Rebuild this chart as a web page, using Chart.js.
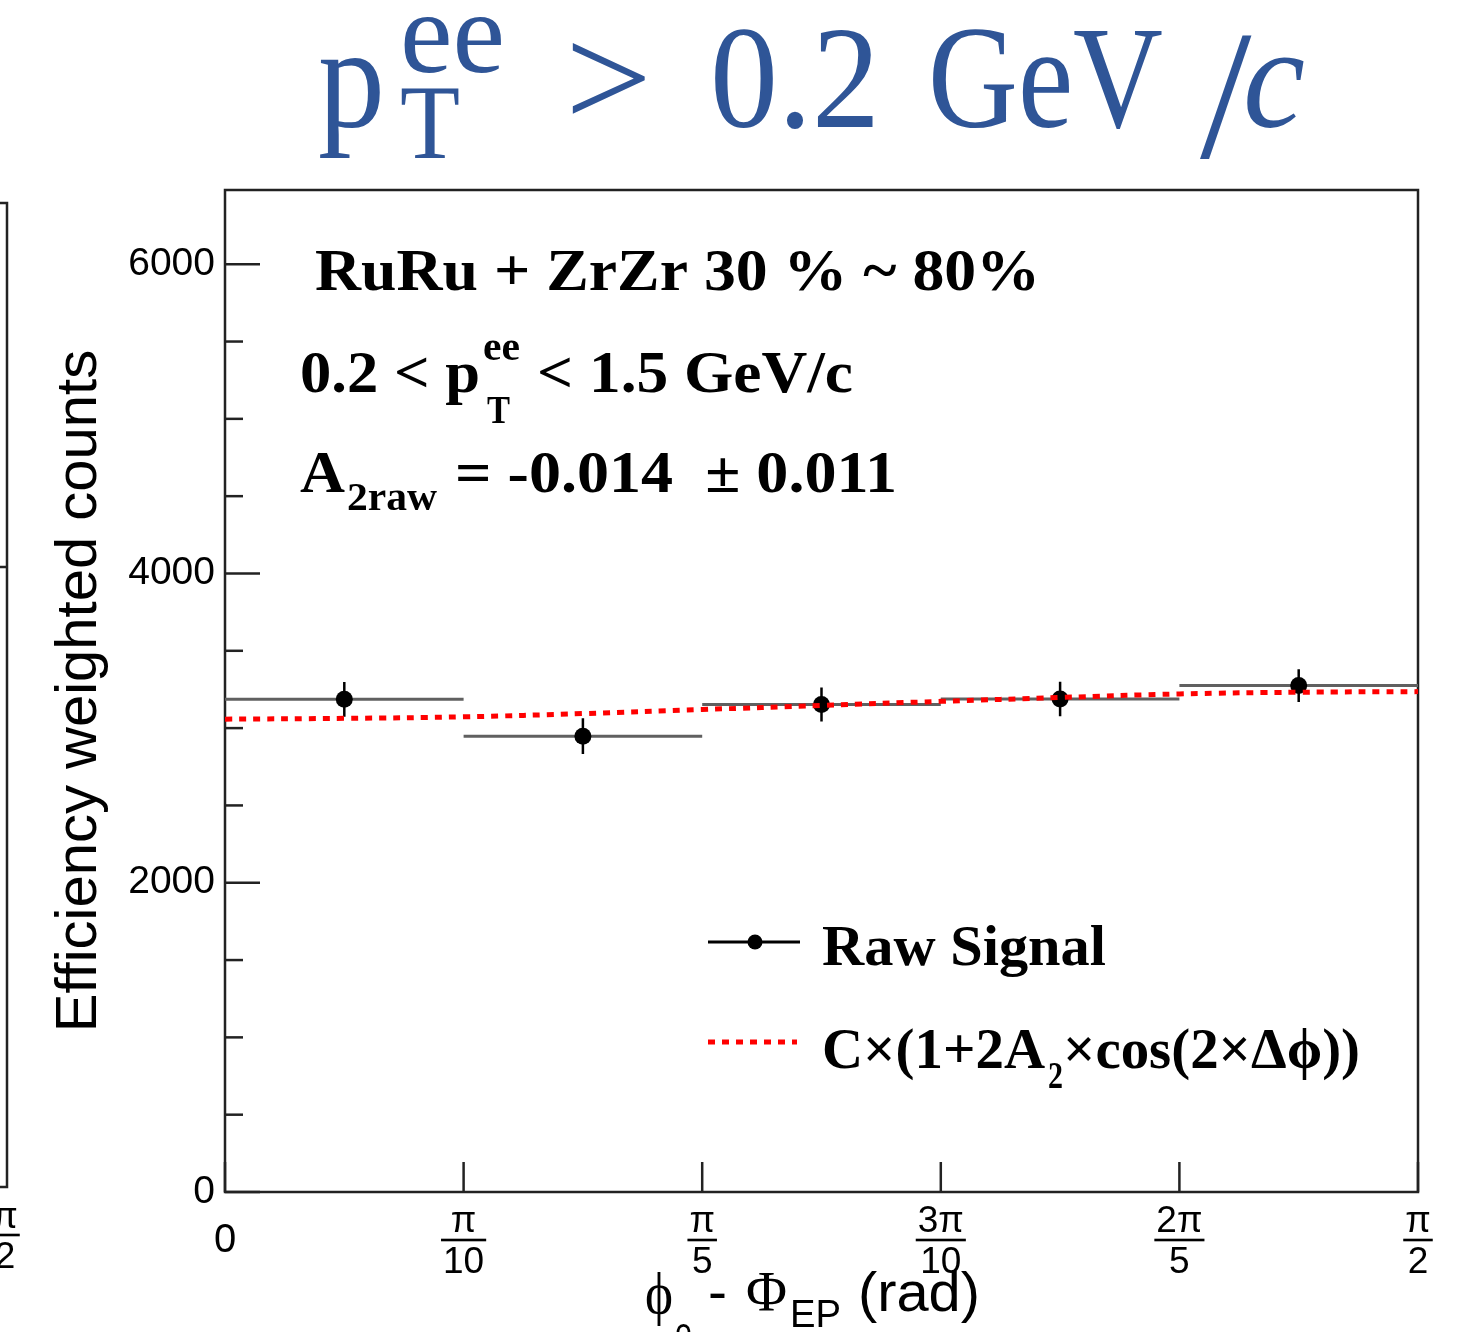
<!DOCTYPE html>
<html>
<head>
<meta charset="utf-8">
<script src="https://cdn.jsdelivr.net/npm/chart.js@4.4.0/dist/chart.umd.min.js"></script>
<style>
  body { margin: 0; background: #fff; }
  #caja { width: 1465px; height: 1332px; position: relative; }
</style>
</head>
<body>
<div id="caja"><canvas id="grafico" width="1465" height="1332"></canvas></div>
<script>
  // datos (x en unidades de pi)
  let binBajo = [0, 0.1, 0.2, 0.3, 0.4]
  let binAlto = [0.1, 0.2, 0.3, 0.4, 0.5]
  let senal = [3186, 2948, 3152, 3188, 3275]
  let errores = [112, 116, 110, 112, 106]
  // curva del ajuste C x (1 + 2 A2 cos(2 dphi))
  let ajusteX = [0, 0.05, 0.1, 0.15, 0.2, 0.25, 0.3, 0.35, 0.4, 0.45, 0.5]
  let ajusteY = [3058, 3063, 3073, 3094, 3120, 3147, 3173, 3198, 3221, 3232, 3236]
  // divisiones de los ejes
  let ticksX = [0, 0.1, 0.2, 0.3, 0.4, 0.5]
  let etiquetasX = [["0"], ["π", "10"], ["π", "5"], ["3π", "10"], ["2π", "5"], ["π", "2"]]
  let ticksY = [0, 500, 1000, 1500, 2000, 2500, 3000, 3500, 4000, 4500, 5000, 5500, 6000]
  let yMax = 6480

  const PI = Math.PI

  // armo los puntos de cada dataset
  let histo = []
  let barras = []
  let marcas = []
  for (var i = 0; i < senal.length; i++) {
    histo.push({x: binBajo[i] * PI, y: senal[i]})
    histo.push({x: binAlto[i] * PI, y: senal[i]})
    histo.push({x: binAlto[i] * PI, y: null})
    let c = (binBajo[i] + binAlto[i]) / 2 * PI
    barras.push({x: c, y: senal[i] - errores[i]})
    barras.push({x: c, y: senal[i] + errores[i]})
    barras.push({x: c, y: null})
    marcas.push({x: c, y: senal[i]})
  }
  let ajuste = ajusteX.map((k, i) => ({x: k * PI, y: ajusteY[i]}))

  // texto estirado para que ocupe el ancho pedido
  function texto(ctx, s, x, base, size, ancho, fam, extra, color) {
    ctx.save()
    ctx.font = (extra || "") + " " + size + "px " + fam
    ctx.fillStyle = color || "#000"
    ctx.textAlign = "left"
    ctx.textBaseline = "alphabetic"
    let w = ctx.measureText(s).width
    let sx = ancho ? ancho / w : 1
    ctx.translate(x, base)
    ctx.scale(sx, 1)
    ctx.fillText(s, 0, 0)
    ctx.restore()
  }

  function fraccion(ctx, num, den, x, yNum, yBarra, yDen, size) {
    ctx.save()
    ctx.font = size + "px 'Liberation Sans', Arial"
    ctx.fillStyle = "#000"
    ctx.textAlign = "center"
    ctx.textBaseline = "alphabetic"
    ctx.fillText(num, x, yNum)
    ctx.fillText(den, x, yDen)
    let w = Math.max(ctx.measureText(num).width, ctx.measureText(den).width) + 4
    ctx.fillRect(x - w / 2, yBarra - 1.3, w, 2.6)
    ctx.restore()
  }

  const marco = {
    id: "marco",
    beforeDatasetsDraw(chart) {
      const ctx = chart.ctx
      const a = chart.chartArea
      const sx = chart.scales.x
      const sy = chart.scales.y
      ctx.save()
      ctx.strokeStyle = "#222"
      ctx.lineWidth = 2.5
      ctx.strokeRect(a.left, a.top, a.right - a.left, a.bottom - a.top)
      // divisiones del eje y hacia adentro
      ticksY.forEach(v => {
        let py = sy.getPixelForValue(v)
        let largo = (v % 2000 === 0) ? 35 : 18
        ctx.beginPath()
        ctx.moveTo(a.left, py)
        ctx.lineTo(a.left + largo, py)
        ctx.stroke()
      })
      ticksX.forEach(k => {
        let px = sx.getPixelForValue(k * PI)
        ctx.beginPath()
        ctx.moveTo(px, a.bottom)
        ctx.lineTo(px, a.bottom - 30)
        ctx.stroke()
      })
      // borde del grafico vecino (cortado)
      ctx.beginPath()
      ctx.moveTo(0, 203); ctx.lineTo(7, 203); ctx.lineTo(7, 1187); ctx.lineTo(0, 1187)
      ctx.moveTo(0, 567); ctx.lineTo(7, 567)
      ctx.stroke()
      ctx.restore()
    },
    afterDraw(chart) {
      const ctx = chart.ctx
      const a = chart.chartArea
      const sx = chart.scales.x
      // etiquetas del eje x en fracciones
      ticksX.forEach((k, i) => {
        let px = sx.getPixelForValue(k * PI)
        let et = etiquetasX[i]
        if (et.length === 1) {
          ctx.save()
          ctx.font = "40px 'Liberation Sans', Arial"
          ctx.fillStyle = "#000"
          ctx.textAlign = "center"
          ctx.fillText(et[0], px, a.bottom + 60)
          ctx.restore()
        } else {
          fraccion(ctx, et[0], et[1], px, a.bottom + 40, a.bottom + 48, a.bottom + 81, 37)
        }
      })
      fraccion(ctx, "π", "2", 5, 1228, 1235, 1268, 37)

      // titulo del eje x
      const sans = "'Liberation Sans', Arial"
      const serif = "'Liberation Serif', 'Times New Roman'"
      texto(ctx, "ϕ", 645, 1313, 60, 28, serif)
      texto(ctx, "e", 675, 1346, 40, 17, sans)
      texto(ctx, "-", 708, 1311, 56, 19, sans)
      texto(ctx, "Φ", 746, 1311, 56, 41, serif)
      texto(ctx, "EP", 790, 1327, 38, 51, sans)
      texto(ctx, "(rad)", 858, 1311, 56, 122, sans)

      // textos del panel
      texto(ctx, "RuRu + ZrZr 30 % ~ 80%", 315, 290, 60, 725, serif, "bold")
      texto(ctx, "0.2 < p", 300, 392, 60, 180, serif, "bold")
      texto(ctx, "ee", 483, 360, 40, 37, serif, "bold")
      texto(ctx, "T", 487, 423, 40, 23, serif, "bold")
      texto(ctx, "< 1.5 GeV/c", 537, 392, 60, 316, serif, "bold")
      texto(ctx, "A", 300, 492, 60, 45, serif, "bold")
      texto(ctx, "2raw", 347, 510, 40, 90, serif, "bold")
      texto(ctx, "= -0.014  ± 0.011", 455, 492, 60, 442, serif, "bold")

      // leyenda
      ctx.save()
      ctx.strokeStyle = "#000"
      ctx.lineWidth = 3
      ctx.beginPath(); ctx.moveTo(708, 942); ctx.lineTo(800, 942); ctx.stroke()
      ctx.fillStyle = "#000"
      ctx.beginPath(); ctx.arc(755, 942, 7.5, 0, 2 * PI); ctx.fill()
      ctx.strokeStyle = "#ff0000"
      ctx.lineWidth = 5
      ctx.setLineDash([7, 7])
      ctx.beginPath(); ctx.moveTo(708, 1042); ctx.lineTo(797, 1042); ctx.stroke()
      ctx.restore()
      texto(ctx, "Raw Signal", 822, 965, 57, 284, serif, "bold")
      texto(ctx, "C×(1+2A", 822, 1068, 57, 223, serif, "bold")
      texto(ctx, "2", 1048, 1088, 38, 15, serif, "bold")
      texto(ctx, "×cos(2×Δϕ))", 1063, 1068, 57, 297, serif, "bold")

      // titulo grande
      const azul = "#2F5597"
      texto(ctx, "p", 318, 127, 147, 67, serif, "", azul)
      texto(ctx, "ee", 400, 72, 116, 105, serif, "", azul)
      texto(ctx, "T", 400, 158, 106, 60, serif, "", azul)
      texto(ctx, ">", 565, 127, 147, 87, serif, "", azul)
      texto(ctx, "0.2", 710, 127, 147, 170, serif, "", azul)
      texto(ctx, "GeV", 928, 127, 147, 235, serif, "", azul)
      texto(ctx, "/", 1200, 157, 185, null, serif, "", azul)
      texto(ctx, "c", 1243, 127, 147, 62, serif, "italic", azul)
    }
  }

  var ctx = document.getElementById("grafico").getContext("2d")
  var grafico = new Chart(ctx, {
    type: "scatter",
    data: {
      datasets: [
        {
          label: "ajuste",
          data: ajuste,
          showLine: true,
          borderColor: "#ff0000",
          borderWidth: 5,
          borderDash: [7, 7],
          pointRadius: 0,
          tension: 0.4,
          order: 0
        },
        {
          label: "Raw Signal",
          data: marcas,
          pointRadius: 8.5,
          pointBackgroundColor: "#000",
          pointBorderWidth: 0,
          order: 1
        },
        {
          label: "errores",
          data: barras,
          showLine: true,
          spanGaps: false,
          borderColor: "#000",
          borderWidth: 2.5,
          pointRadius: 0,
          order: 2
        },
        {
          label: "histo",
          data: histo,
          showLine: true,
          spanGaps: false,
          borderColor: "#606060",
          borderWidth: 3,
          pointRadius: 0,
          order: 3
        }
      ]
    },
    options: {
      responsive: false,
      animation: false,
      devicePixelRatio: 1,
      layout: { padding: { left: 40, top: 190, right: 47, bottom: 140 } },
      plugins: { legend: { display: false }, tooltip: { enabled: false } },
      scales: {
        x: {
          type: "linear",
          min: 0,
          max: PI / 2,
          grid: { display: false, drawTicks: false },
          border: { display: false },
          ticks: { display: false },
          afterFit: s => { s.height = 0 }
        },
        y: {
          min: 0,
          max: yMax,
          grid: { display: false, drawTicks: false },
          border: { display: false },
          afterBuildTicks: s => { s.ticks = ticksY.map(v => ({value: v})) },
          afterFit: s => { s.width = 185 },
          ticks: {
            autoSkip: false,
            padding: 10,
            color: "#000",
            font: { family: "'Liberation Sans', Arial", size: 39 },
            callback: v => (v % 2000 === 0 ? String(v) : "")
          },
          title: {
            display: true,
            text: "Efficiency weighted counts",
            color: "#000",
            font: { family: "'Liberation Sans', Arial", size: 58 },
            padding: { top: 5, bottom: 14 }
          }
        }
      }
    },
    plugins: [marco]
  })
</script>
</body>
</html>
